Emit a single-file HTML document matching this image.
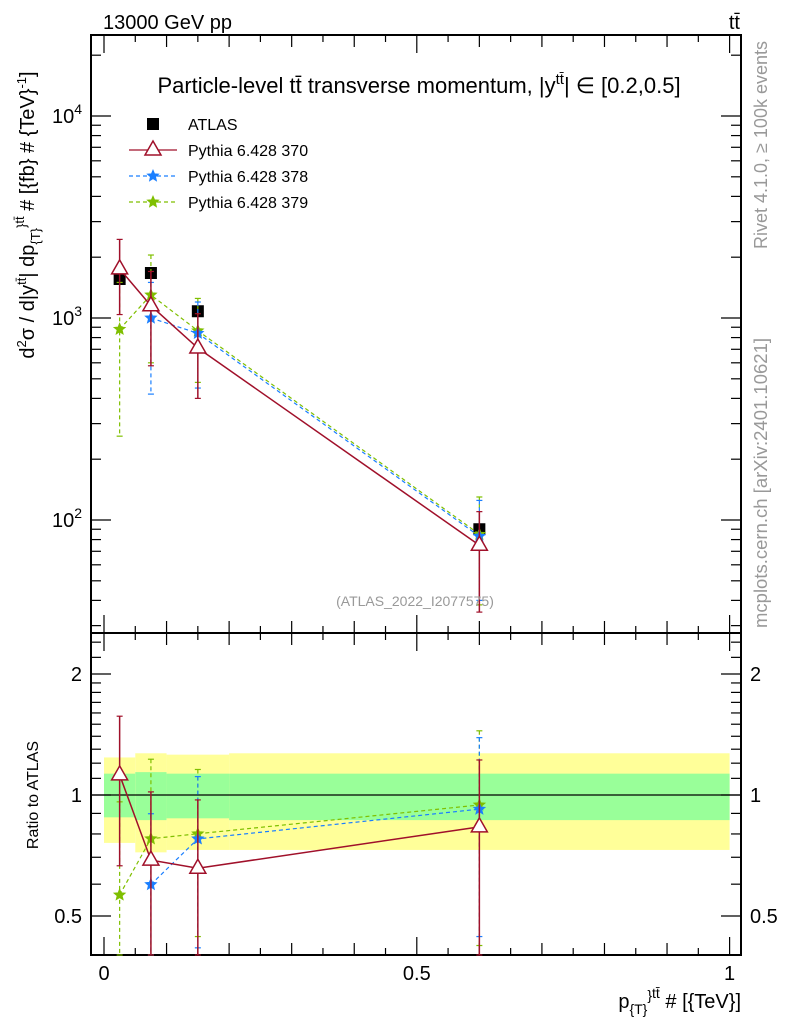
<!DOCTYPE html>
<html><head><meta charset="utf-8">
<style>
html,body{margin:0;padding:0;background:#fff;}
svg text{font-family:"Liberation Sans",Arial,sans-serif;}
</style></head>
<body>
<svg id="c" width="786" height="1024" viewBox="0 0 786 1024" xmlns="http://www.w3.org/2000/svg">
<rect width="786" height="1024" fill="#fff"/>
<g id="bands"></g>
<g id="grid"></g>
<g id="series"></g>
<text x="103" y="29" font-size="20">13000 GeV pp</text>
<text x="740" y="29" font-size="20" text-anchor="end">tt̄</text>
<text x="419" y="93" font-size="22" text-anchor="middle">Particle-level tt̄ transverse momentum, |y<tspan dy="-9" font-size="15">tt̄</tspan><tspan dy="9">| ∈ [0.2,0.5]</tspan></text>
<text x="415" y="606" font-size="14" fill="#999" text-anchor="middle">(ATLAS_2022_I2077575)</text>
<text transform="translate(767,145) rotate(-90)" font-size="18" fill="#999" text-anchor="middle">Rivet 4.1.0, ≥ 100k events</text>
<text transform="translate(767,483) rotate(-90)" font-size="18.5" fill="#999" text-anchor="middle">mcplots.cern.ch [arXiv:2401.10621]</text>
<text transform="translate(34,215) rotate(-90)" font-size="20" text-anchor="middle">d<tspan dy="-8" font-size="13">2</tspan><tspan dy="8">σ / d|y</tspan><tspan dy="-8" font-size="13">tt̄</tspan><tspan dy="8">| dp</tspan><tspan dy="6" font-size="13">{T}</tspan><tspan dy="-14" font-size="13">}</tspan><tspan dy="-2" font-size="13">tt̄</tspan><tspan dy="10"> # [{fb} # {TeV}</tspan><tspan dy="-8" font-size="13">-1</tspan><tspan dy="8">]</tspan></text>
<text transform="translate(38,795) rotate(-90)" font-size="16" text-anchor="middle">Ratio to ATLAS</text>
<text x="741" y="1008" font-size="20" text-anchor="end">p<tspan dy="6" font-size="14">{T}</tspan><tspan dy="-14" font-size="14">}</tspan><tspan dy="-2" font-size="14">tt̄</tspan><tspan dy="10"> # [{TeV}]</tspan></text>
<g id="legend"></g>
</svg>
<script>
const xs = [0.025, 0.075, 0.15, 0.6];
const binEdges = [0, 0.05, 0.1, 0.2, 1.0];
const atlas = [1560, 1670, 1080, 90];
const bandGreenUp = [1.13, 1.14, 1.13, 1.13];
const bandGreenDn = [0.88, 0.866, 0.875, 0.866];
const bandYellowUp = [1.24, 1.27, 1.26, 1.27];
const bandYellowDn = [0.76, 0.72, 0.73, 0.73];
const p370 = [1750, 1150, 710, 75];
const p370Up = [2450, 1700, 1050, 110];
const p370Dn = [1040, 580, 400, 35];
const p378 = [null, 1000, 840, 83];
const p378Up = [null, 1500, 1200, 125];
const p378Dn = [null, 420, 450, 40];
const p379 = [880, 1300, 865, 85];
const p379Up = [1500, 2050, 1250, 130];
const p379Dn = [260, 600, 480, 38];
const yTickLabels = ["10", "10", "10"];
const yTickExp = ["2", "3", "4"];
const rTickVals = [0.5, 1, 2];
const xTickVals = [0, 0.5, 1];

const NS = "http://www.w3.org/2000/svg";
const L = 91, R = 741, T = 35, M = 633, B = 955;
function X(v){ return 104 + 625.6 * v; }
function Y(v){ return 318 - 202 * Math.log10(v / 1000); }
function YR(r){ return 795 - 121 * Math.log2(r); }
function clampU(y){ return Math.max(T, Math.min(M, y)); }
function clampR(y){ return Math.max(M, Math.min(B, y)); }
function mk(tag, attrs, parent){
  const e = document.createElementNS(NS, tag);
  for (const k in attrs) e.setAttribute(k, attrs[k]);
  parent.appendChild(e); return e;
}
const grid = document.getElementById('grid');
const bands = document.getElementById('bands');
const series = document.getElementById('series');
const legend = document.getElementById('legend');

for (let i = 0; i < xs.length; i++) {
  const x0 = X(binEdges[i]), x1 = X(binEdges[i+1]);
  const ry = mk('rect', {x:x0, y:YR(bandYellowUp[i]), width:x1-x0, height:YR(bandYellowDn[i])-YR(bandYellowUp[i]), fill:'#ffff99'}, bands);
  
  
  const rg = mk('rect', {x:x0, y:YR(bandGreenUp[i]), width:x1-x0, height:YR(bandGreenDn[i])-YR(bandGreenUp[i]), fill:'#99ff99'}, bands);
  
  
}
const one = mk('line', {x1:L, x2:R, y1:YR(1), y2:YR(1), stroke:'#000', 'stroke-width':1.2}, bands);



for (const [y0, y1] of [[T, M], [M, B]]) {
  const f = mk('rect', {x:L, y:y0, width:R-L, height:y1-y0, fill:'none', stroke:'#000', 'stroke-width':2}, grid);
  
  
}
for (let v = 0; v <= 1.0001; v += 0.05) {
  const major = Math.abs(v*10 - Math.round(v*10)) < 1e-6;
  const big = Math.abs(v*2 - Math.round(v*2)) < 1e-6;
  const len = big ? 18 : (major ? 12 : 7);
  for (const [a, d] of [[M, -1], [B, -1], [T, 1], [M, 1]]) {
    mk('line', {x1:X(v), x2:X(v), y1:a, y2:a + d*len, stroke:'#000', 'stroke-width':1.2}, grid);
  }
}
xTickVals.forEach(v => {
  const t = mk('text', {x:X(v), y:980, 'font-size':20, 'text-anchor':'middle'}, grid);
  t.textContent = String(v);
  
  
});
for (let d = 1; d <= 4; d++) {
  for (let m = 1; m <= 9; m++) {
    const v = m * Math.pow(10, d);
    const y = Y(v);
    if (y < T || y > M) continue;
    const len = m === 1 ? 20 : 10;
    mk('line', {x1:L, x2:L+len, y1:y, y2:y, stroke:'#000', 'stroke-width':1.2}, grid);
    mk('line', {x1:R, x2:R-len, y1:y, y2:y, stroke:'#000', 'stroke-width':1.2}, grid);
  }
}
yTickLabels.forEach((lab, i) => {
  const v = Math.pow(10, Number(yTickExp[i]));
  const t = mk('text', {x:82, y:Y(v)+7, 'font-size':20, 'text-anchor':'end'}, grid);
  t.textContent = lab;
  const s = mk('tspan', {dy:-9, 'font-size':14}, t);
  s.textContent = yTickExp[i];
  
  
});
const rMinor = [0.4,0.5,0.6,0.7,0.8,0.9,1,1.1,1.2,1.3,1.4,1.5,1.6,1.7,1.8,1.9,2,2.2,2.4];
rMinor.forEach(r => {
  const y = YR(r); if (y < M || y > B) return;
  const len = rTickVals.includes(r) ? 20 : 10;
  mk('line', {x1:L, x2:L+len, y1:y, y2:y, stroke:'#000', 'stroke-width':1.2}, grid);
  mk('line', {x1:R, x2:R-len, y1:y, y2:y, stroke:'#000', 'stroke-width':1.2}, grid);
});
rTickVals.forEach(r => {
  for (const [x, a] of [[82, 'end'], [750, 'start']]) {
    const t = mk('text', {x:x, y:YR(r)+7, 'font-size':20, 'text-anchor':a}, grid);
    t.textContent = String(r);
    
    
  }
});

function star(cx, cy, r, col, p){
  let pts = [];
  for (let i = 0; i < 10; i++) {
    const a = -Math.PI/2 + i*Math.PI/5, rr = i%2 ? r*0.45 : r;
    pts.push((cx + rr*Math.cos(a)).toFixed(1) + ',' + (cy + rr*Math.sin(a)).toFixed(1));
  }
  return mk('polygon', {points:pts.join(' '), fill:col, stroke:col, 'stroke-width':0.8}, p);
}
function tri(cx, cy, col, p){
  return mk('polygon', {points:`${cx},${cy-9} ${cx-8},${cy+5} ${cx+8},${cy+5}`, fill:'#fff', stroke:col, 'stroke-width':1.5}, p);
}
function drawSeries(name, vals, up, dn, col, dash, kind){
  const g = mk('g', {}, series);
  
  
  const sw = kind === 'tri' ? 1.5 : 1.2;
  let pts = [], rpts = [];
  xs.forEach((x, i) => {
    if (vals[i] == null) return;
    pts.push(X(x) + ',' + Y(vals[i]));
    rpts.push(X(x) + ',' + YR(vals[i] / atlas[i]));
  });
  for (const pp of [pts, rpts]) {
    const ln = mk('polyline', {points:pp.join(' '), fill:'none', stroke:col, 'stroke-width':sw}, g);
    if (dash) ln.setAttribute('stroke-dasharray', dash);
  }
  xs.forEach((x, i) => {
    if (vals[i] == null) return;
    const cx = X(x);
    const segs = [[clampU(Y(up[i])), clampU(Y(dn[i])), Y(vals[i])],
                  [clampR(YR(up[i]/atlas[i])), clampR(YR(dn[i]/atlas[i])), YR(vals[i]/atlas[i])]];
    segs.forEach(([yu, yd, yc]) => {
      const e = mk('line', {x1:cx, x2:cx, y1:yu, y2:yd, stroke:col, 'stroke-width':sw}, g);
      if (dash) e.setAttribute('stroke-dasharray', dash);
      mk('line', {x1:cx-3, x2:cx+3, y1:yu, y2:yu, stroke:col, 'stroke-width':1.2}, g);
      mk('line', {x1:cx-3, x2:cx+3, y1:yd, y2:yd, stroke:col, 'stroke-width':1.2}, g);
      const mkr = kind === 'tri' ? tri(cx, yc, col, g) : star(cx, yc, 6, col, g);
      
      
    });
  });
}
const ga = mk('g', {}, series);


xs.forEach((x, i) => {
  const sq = mk('rect', {x:X(x)-6, y:Y(atlas[i])-6, width:12, height:12, fill:'#000'}, ga);
  
  
});
drawSeries('pythia-379', p379, p379Up, p379Dn, '#7fbf00', '4,3', 'star');
drawSeries('pythia-378', p378, p378Up, p378Dn, '#1a7fff', '4,3', 'star');
drawSeries('pythia-370', p370, p370Up, p370Dn, '#a0102a', null, 'tri');

const leg = [['ATLAS', null], ['Pythia 6.428 370', '#a0102a'], ['Pythia 6.428 378', '#1a7fff'], ['Pythia 6.428 379', '#7fbf00']];
leg.forEach((e, i) => {
  const y = 124 + i*26;
  const g = mk('g', {}, legend);
  
  
  if (i === 0) mk('rect', {x:147, y:y-6, width:12, height:12, fill:'#000'}, g);
  else {
    const ln = mk('line', {x1:129, x2:177, y1:y, y2:y, stroke:e[1], 'stroke-width':1.3}, g);
    if (i > 1) { ln.setAttribute('stroke-dasharray', '4,3'); star(153, y, 6, e[1], g); }
    else tri(153, y, e[1], g);
  }
  const t = mk('text', {x:188, y:y+6, 'font-size':16}, g);
  t.textContent = e[0];
});
</script>
</body></html>
